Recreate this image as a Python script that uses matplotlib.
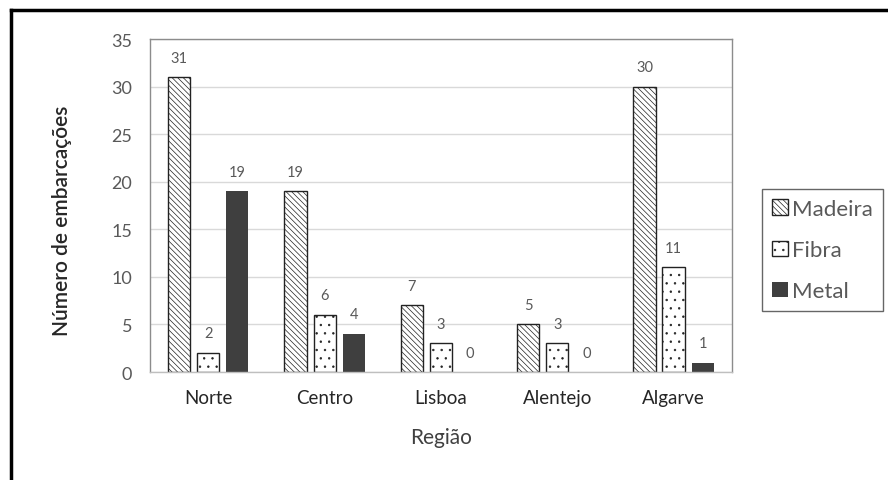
import matplotlib
matplotlib.use("Agg")
import matplotlib.pyplot as plt
import numpy as np
from matplotlib.lines import Line2D

plt.rcParams['font.family'] = ['Lato', 'DejaVu Sans']
plt.rcParams['hatch.linewidth'] = 0.5

regions = ["Norte", "Centro", "Lisboa", "Alentejo", "Algarve"]
madeira = [31, 19, 7, 5, 30]
fibra = [2, 6, 3, 3, 11]
metal = [19, 4, 0, 0, 1]
series_names = ["Madeira", "Fibra", "Metal"]
y_ticks = [0, 5, 10, 15, 20, 25, 30, 35]

fig = plt.figure(figsize=(8.88, 4.81), dpi=100)
ax = fig.add_axes([0.169, 0.2245, 0.655, 0.6923])

x = np.arange(len(regions))
offset = 0.25
width = 0.19
grey_txt = "#595959"

styles = [
    dict(facecolor="white", edgecolor="#222222", hatch="\\\\\\\\\\\\", linewidth=1.0),
    dict(facecolor="white", edgecolor="#222222", hatch="..", linewidth=1.0),
    dict(facecolor="#3f3f3f", edgecolor="none", hatch=None, linewidth=0),
]
handles = []
for i, (vals, st) in enumerate(zip([madeira, fibra, metal], styles)):
    bars = ax.bar(x + (i - 1) * offset, vals, width,
                  label=series_names[i], **st)
    handles.append(bars)
    for xi, v in zip(x + (i - 1) * offset, vals):
        ax.annotate(str(v), (xi, v), xytext=(0, 9), textcoords="offset points",
                    ha="center", va="bottom", fontsize=10.5, color=grey_txt)

ax.set_xlim(-0.5, len(regions) - 0.5)
ax.set_ylim(0, 35)
ax.set_yticks(y_ticks)
ax.set_xticks(x)
ax.set_xticklabels(regions, fontsize=13.5, color="#262626")
ax.tick_params(axis="y", length=0, labelsize=13, labelcolor=grey_txt, pad=13)
ax.tick_params(axis="x", length=0, pad=12)
ax.yaxis.grid(True, color="#d9d9d9", linewidth=1.0)
ax.set_axisbelow(True)
for s in ax.spines.values():
    s.set_color("#8c8c8c")
    s.set_linewidth(1.0)
ax.spines["bottom"].set_color("#bfbfbf")

ax.set_ylabel("Número de embarcações", fontsize=15, color="#262626",
              fontweight="semibold", va="center")
ax.yaxis.set_label_coords(-0.151, 0.456)
ax.set_xlabel("Região", fontsize=15, color="#404040", labelpad=15)

leg = fig.legend(handles=handles, loc="upper left",
                 bbox_to_anchor=(762 / 888, 1 - 190 / 481),
                 fontsize=16, labelcolor=grey_txt, frameon=True, fancybox=False,
                 edgecolor="#404040", handlelength=0.7, handleheight=0.7,
                 handletextpad=0.2, labelspacing=0.95, borderpad=0.45,
                 borderaxespad=0)
leg.get_frame().set_linewidth(1.0)

# outer frame lines along top and left
fig.add_artist(Line2D([11 / 888, 1], [1 - 11 / 481, 1 - 11 / 481],
                      transform=fig.transFigure, color="black", linewidth=2.5))
fig.add_artist(Line2D([11 / 888, 11 / 888], [0, 1 - 11 / 481],
                      transform=fig.transFigure, color="black", linewidth=2.5))

fig.savefig("out.png", dpi=100)
